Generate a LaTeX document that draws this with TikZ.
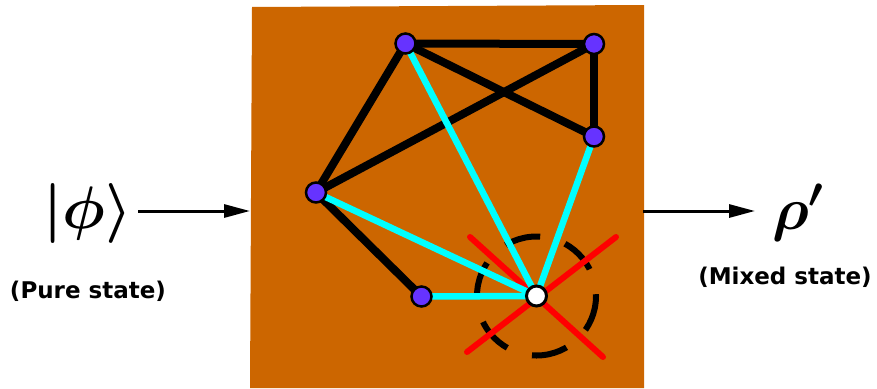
\RequirePackage{fix-cm}
\documentclass[tikz,border=0pt]{standalone}
\usepackage{fontspec}
\newfontfamily\labfont{DejaVu Sans}
\usetikzlibrary{arrows.meta}
\definecolor{orangebg}{HTML}{CC6600}
\definecolor{vpurple}{HTML}{6633FF}
\definecolor{cyanl}{HTML}{00FFFF}
\definecolor{redl}{HTML}{FF0000}
\pgfdeclarelayer{bg}
\pgfdeclarelayer{edges}
\pgfsetlayers{bg,edges,main}
\begin{document}
\begin{tikzpicture}[x=1pt,y=-1pt,
  vtx/.style={circle,draw=black,line width=2.5pt,fill=vpurple,minimum size=20pt,inner sep=0pt},
  wvtx/.style={circle,draw=black,line width=3pt,fill=white,minimum size=20pt,inner sep=0pt},
  blkedge/.style={line width=8pt,draw=black},
  cyedge/.style={line width=6.5pt,draw=cyanl},
  redx/.style={line width=6pt,draw=redl,line cap=round},
  dcirc/.style={line width=6pt,draw=black,dash pattern=on 36pt off 26pt},
  arr/.style={line width=3pt,-{Triangle[length=26pt,width=13pt]}},
  mathlab/.style={inner sep=0pt,font=\fontsize{60}{72}\selectfont\boldmath},
  txtlab/.style={inner sep=0pt,font=\labfont\bfseries\fontsize{23}{27}\selectfont}]
\useasboundingbox (0,0) rectangle (877,388);
\begin{pgfonlayer}{bg}
\fill[orangebg] (252,7) -- (644,5) -- (644,388) -- (250,388) -- cycle;
\end{pgfonlayer}
% vertices
\node[vtx] (A) at (405.5,43.5) {};
\node[vtx] (B) at (594,44) {};
\node[vtx] (C) at (594,136.5) {};
\node[vtx] (D) at (316,192.5) {};
\node[vtx] (E) at (421.5,296.5) {};
\node[wvtx] (F) at (536.5,296) {};
\coordinate (R1a) at (470,237);
\coordinate (R1b) at (603,357);
\coordinate (R2a) at (616,237);
\coordinate (R2b) at (467,352);
\begin{pgfonlayer}{edges}
\draw[blkedge] (A.center) -- (B.center);
\draw[blkedge] (A.center) -- (C.center);
\draw[blkedge] (A.center) -- (D.center);
\draw[blkedge] (B.center) -- (D.center);
\draw[blkedge] (B.center) -- (C.center);
\draw[blkedge] (D.center) -- (E.center);
\draw[dcirc] (F.center) circle[radius=59.5];
\draw[redx] (R1a) -- (R1b);
\draw[redx] (R2a) -- (R2b);
\draw[cyedge] (A.center) -- (F.center);
\draw[cyedge] (C.center) -- (F.center);
\draw[cyedge] (D.center) -- (F.center);
\draw[cyedge] (E.center) -- (F.center);
\end{pgfonlayer}
% labels
\node[mathlab] (phi) at (88,213) {$|\phi\rangle$};
\node[mathlab] (rho) at (798,213) {$\rho'$};
\node[txtlab] (pure) at (88,291) {(Pure state)};
\node[txtlab] (mixed) at (785,277) {(Mixed state)};
\coordinate (inS) at (138,211);
\coordinate (inE) at (250,211);
\coordinate (outS) at (643,211);
\coordinate (outE) at (755,211);
\draw[arr] (inS) -- (inE);
\draw[arr] (outS) -- (outE);
\end{tikzpicture}
\end{document}
